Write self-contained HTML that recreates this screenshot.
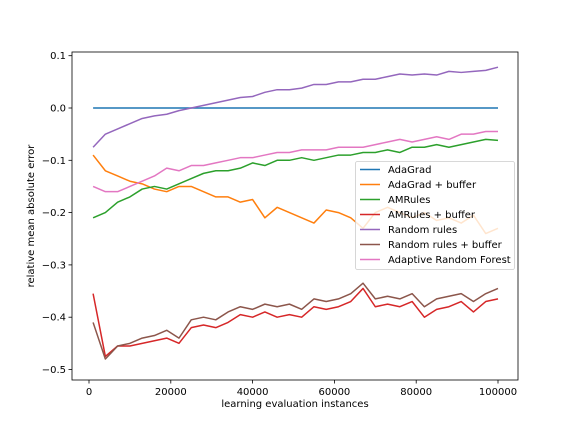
<!DOCTYPE html>
<html><head><meta charset="utf-8"><style>
body{margin:0;background:#fff}
svg text{font-family:"DejaVu Sans","Liberation Sans",sans-serif;font-size:10px;fill:#000}
</style></head><body>
<svg id="chart" width="576" height="432">
<rect width="576" height="432" fill="#fff"/>
<g id="plot"></g>
</svg>
<script>
const xs=[1000,4000,7000,10000,13000,16000,19000,22000,25000,28000,31000,34000,37000,40000,43000,46000,49000,52000,55000,58000,61000,64000,67000,70000,73000,76000,79000,82000,85000,88000,91000,94000,97000,100000];
const adagrad=xs.map(()=>0);
const adagradBuffer=[-0.09,-0.12,-0.13,-0.14,-0.145,-0.155,-0.16,-0.15,-0.15,-0.16,-0.17,-0.17,-0.18,-0.175,-0.21,-0.19,-0.2,-0.21,-0.22,-0.195,-0.2,-0.21,-0.23,-0.2,-0.19,-0.2,-0.21,-0.2,-0.215,-0.21,-0.22,-0.205,-0.24,-0.23];
const amrules=[-0.21,-0.2,-0.18,-0.17,-0.155,-0.15,-0.155,-0.145,-0.135,-0.125,-0.12,-0.12,-0.115,-0.105,-0.11,-0.1,-0.1,-0.095,-0.1,-0.095,-0.09,-0.09,-0.085,-0.085,-0.08,-0.085,-0.075,-0.075,-0.07,-0.075,-0.07,-0.065,-0.06,-0.062];
const amrulesBuffer=[-0.355,-0.475,-0.455,-0.455,-0.45,-0.445,-0.44,-0.45,-0.42,-0.415,-0.42,-0.41,-0.395,-0.4,-0.39,-0.4,-0.395,-0.4,-0.38,-0.385,-0.38,-0.37,-0.345,-0.38,-0.375,-0.38,-0.37,-0.4,-0.385,-0.38,-0.37,-0.39,-0.37,-0.365];
const randomRules=[-0.075,-0.05,-0.04,-0.03,-0.02,-0.015,-0.012,-0.005,0,0.005,0.01,0.015,0.02,0.022,0.03,0.035,0.035,0.038,0.045,0.045,0.05,0.05,0.055,0.055,0.06,0.065,0.063,0.065,0.063,0.07,0.068,0.07,0.072,0.078];
const randomRulesBuffer=[-0.41,-0.48,-0.455,-0.45,-0.44,-0.435,-0.425,-0.44,-0.405,-0.4,-0.405,-0.39,-0.38,-0.385,-0.375,-0.38,-0.375,-0.385,-0.365,-0.37,-0.365,-0.355,-0.335,-0.365,-0.36,-0.365,-0.355,-0.38,-0.365,-0.36,-0.355,-0.37,-0.355,-0.345];
const arf=[-0.15,-0.16,-0.16,-0.15,-0.14,-0.13,-0.115,-0.12,-0.11,-0.11,-0.105,-0.1,-0.095,-0.095,-0.09,-0.085,-0.085,-0.08,-0.08,-0.08,-0.075,-0.075,-0.075,-0.07,-0.065,-0.06,-0.065,-0.06,-0.055,-0.06,-0.05,-0.05,-0.045,-0.045];
const xTicks=[0,20000,40000,60000,80000,100000];
const yTicks=[0.1,0.0,-0.1,-0.2,-0.3,-0.4,-0.5];
const yTickLabels=["0.1","0.0","−0.1","−0.2","−0.3","−0.4","−0.5"];
const names=["AdaGrad","AdaGrad + buffer","AMRules","AMRules + buffer","Random rules","Random rules + buffer","Adaptive Random Forest"];
const colors=["#1f77b4","#ff7f0e","#2ca02c","#d62728","#9467bd","#8c564b","#e377c2"];
const series=[adagrad,adagradBuffer,amrules,amrulesBuffer,randomRules,randomRulesBuffer,arf];

const NS="http://www.w3.org/2000/svg";
const g=document.getElementById('plot');
const X=v=>89+v/1000*4.09;
const Y=v=>108-v*523;
function mk(t,a,p){const e=document.createElementNS(NS,t);for(const k in a)e.setAttribute(k,a[k]);(p||g).appendChild(e);return e;}
const L=72,R=518,T=52,B=380;
series.forEach((s,i)=>{
  const pl=mk('polyline',{points:s.map((v,j)=>X(xs[j])+','+Y(v)).join(' '),fill:'none',stroke:colors[i],'stroke-width':1.5,'stroke-linejoin':'round'});
  
  
});
const fr=mk('rect',{x:L,y:T,width:R-L,height:B-T,fill:'none',stroke:'#000','stroke-width':0.8});


xTicks.forEach(v=>{
  mk('line',{x1:X(v),x2:X(v),y1:B,y2:B+3.5,stroke:'#000','stroke-width':0.8});
  const t=mk('text',{x:X(v),y:B+15,'text-anchor':'middle'});t.textContent=v;
  
  
});
yTicks.forEach((v,i)=>{
  mk('line',{x1:L-3.5,x2:L,y1:Y(v),y2:Y(v),stroke:'#000','stroke-width':0.8});
  const t=mk('text',{x:L-6,y:Y(v)+3.5,'text-anchor':'end'});t.textContent=yTickLabels[i];
  
  
});
const xt=mk('text',{x:295,y:407,'text-anchor':'middle'});xt.textContent='learning evaluation instances';


const yt=mk('text',{x:0,y:0,'text-anchor':'middle',transform:'translate(34,216) rotate(-90)'});yt.textContent='relative mean absolute error';


const lg=mk('g',{});


mk('rect',{x:355.5,y:161.5,width:159,height:108,rx:2,fill:'#fff','fill-opacity':0.8,stroke:'#ccc','stroke-width':0.8},lg);
names.forEach((n,i)=>{
  const yy=169.5+i*15;
  const e=mk('g',{},lg);
  
  
  mk('line',{x1:360,x2:380,y1:yy,y2:yy,stroke:colors[i],'stroke-width':1.5},e);
  const t=mk('text',{x:388,y:yy+3.5},e);t.textContent=n;
});
</script>
</body></html>
